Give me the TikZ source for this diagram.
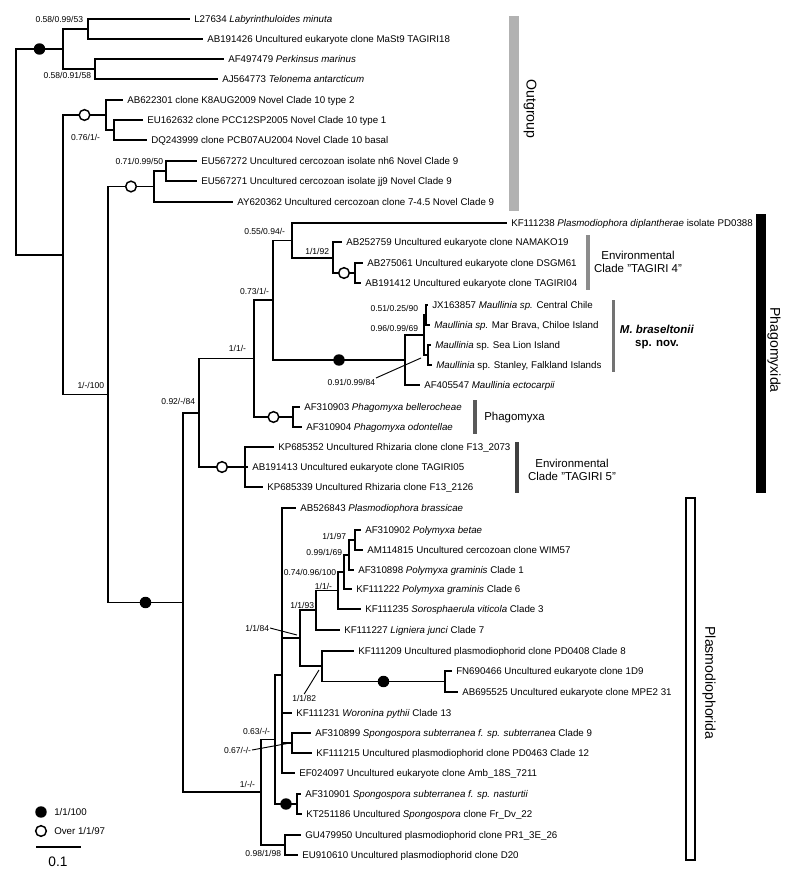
\documentclass[tikz,border=0pt]{standalone}
\usepackage{fontspec}
\setmainfont{Liberation Sans}

\tikzset{
	br/.style={line width=1.2pt},
	leaf/.style={anchor=west, inner xsep=3pt, inner ysep=0pt, text height=5.2pt, text depth=0pt, font=\fontsize{7.3}{8}\selectfont},
	bs/.style={anchor=east, inner sep=0.5pt, text height=4.6pt, text depth=0pt, font=\fontsize{6.4}{7}\selectfont},
	clade/.style={align=center, inner sep=0pt, font=\fontsize{8.6}{10.2}\selectfont},
	group/.style={rotate=-90, inner sep=0pt, font=\fontsize{10.6}{12}\selectfont},
	fdot/.style={circle, fill=black, inner sep=0pt, minimum size=8.6pt},
	odot/.style={circle, draw=black, fill=white, line width=1.1pt, inner sep=0pt, minimum size=8pt},
	lead/.style={line width=0.7pt}
}

\begin{document}
\begin{tikzpicture}[x=0.75pt,y=-0.75pt]
	\useasboundingbox (0,0) rectangle (800,882);

	\coordinate (rt) at (16,151.9);
	\coordinate (nC) at (63,49);
	\coordinate (nA) at (88,29);
	\coordinate (nB) at (95,69);
	\coordinate (nD) at (63,254.75);
	\coordinate (nK) at (106,115);
	\coordinate (nKb) at (114,130);
	\coordinate (nE) at (108,394.5);
	\coordinate (nN) at (154,186.5);
	\coordinate (nNb) at (166,171);
	\coordinate (nF) at (183,602.5);
	\coordinate (nG) at (199,413);
	\coordinate (nT5) at (245,467);
	\coordinate (nH) at (254,358.5);
	\coordinate (nPx) at (293,417);
	\coordinate (nI) at (273,300);
	\coordinate (nJ) at (292,240.5);
	\coordinate (nT4) at (333,258);
	\coordinate (nT4b) at (355,273);
	\coordinate (nM) at (405,360);
	\coordinate (nM0) at (424,335);
	\coordinate (nM1) at (426,315);
	\coordinate (nM2) at (428,355);
	\coordinate (nP) at (261,792.25);
	\coordinate (nR) at (285,845);
	\coordinate (nQ) at (275,739.5);
	\coordinate (nSp) at (297,804);
	\coordinate (nS) at (282,675);
	\coordinate (nV) at (292,743);
	\coordinate (nU) at (300,638);
	\coordinate (nW) at (316,610);
	\coordinate (nZ) at (338,590.5);
	\coordinate (n100) at (344,572);
	\coordinate (n69) at (349,555);
	\coordinate (n97) at (355,540);
	\coordinate (nX) at (322,666);
	\coordinate (nY) at (445,681.5);

	\node[leaf] (o1) at (190,19) {L27634 \textit{Labyrinthuloides minuta}};
	\node[leaf] (o2) at (203,39) {AB191426 Uncultured eukaryote clone MaSt9 TAGIRI18};
	\node[leaf] (o3) at (224,59) {AF497479 \textit{Perkinsus marinus}};
	\node[leaf] (o4) at (218,79) {AJ564773 \textit{Telonema antarcticum}};
	\node[leaf] (c1) at (123,100) {AB622301 clone K8AUG2009 Novel Clade 10 type 2};
	\node[leaf] (c2) at (143,120) {EU162632 clone PCC12SP2005 Novel Clade 10 type 1};
	\node[leaf] (c3) at (147,140) {DQ243999 clone PCB07AU2004 Novel Clade 10 basal};
	\node[leaf] (n1) at (197,161) {EU567272 Uncultured cercozoan isolate nh6 Novel Clade 9};
	\node[leaf] (n2) at (197,181) {EU567271 Uncultured cercozoan isolate jj9 Novel Clade 9};
	\node[leaf] (n3) at (233,202) {AY620362 Uncultured cercozoan clone 7-4.5 Novel Clade 9};
	\node[leaf] (p1) at (507,223) {KF111238 \textit{Plasmodiophora diplantherae} isolate PD0388};
	\node[leaf] (t1) at (342,242) {AB252759 Uncultured eukaryote clone NAMAKO19};
	\node[leaf] (t2) at (363,263) {AB275061 Uncultured eukaryote clone DSGM61};
	\node[leaf] (t3) at (361,283) {AB191412 Uncultured eukaryote clone TAGIRI04};
	\node[leaf] (m1) at (428,305) {JX163857 \textit{Maullinia sp.} Central Chile};
	\node[leaf] (m2) at (430,325) {\textit{Maullinia sp.} Mar Brava, Chiloe Island};
	\node[leaf] (m3) at (431,345) {\textit{Maullinia} sp. Sea Lion Island};
	\node[leaf] (m4) at (432,365) {\textit{Maullinia} sp. Stanley, Falkland Islands};
	\node[leaf] (m5) at (420,385) {AF405547 \textit{Maullinia ectocarpii}};
	\node[leaf] (x1) at (300,407) {AF310903 \textit{Phagomyxa bellerocheae}};
	\node[leaf] (x2) at (302,427) {AF310904 \textit{Phagomyxa odontellae}};
	\node[leaf] (k1) at (274,447) {KP685352 Uncultured Rhizaria clone clone F13\_2073};
	\node[leaf] (k2) at (248,467) {AB191413 Uncultured eukaryote clone TAGIRI05};
	\node[leaf] (k3) at (263,487) {KP685339 Uncultured Rhizaria clone F13\_2126};
	\node[leaf] (s1) at (296,508) {AB526843 \textit{Plasmodiophora brassicae}};
	\node[leaf] (s2) at (361,530) {AF310902 \textit{Polymyxa betae}};
	\node[leaf] (s3) at (363,550) {AM114815 Uncultured cercozoan clone WIM57};
	\node[leaf] (s4) at (354,570) {AF310898 \textit{Polymyxa graminis} Clade 1};
	\node[leaf] (s5) at (352,589) {KF111222 \textit{Polymyxa graminis} Clade 6};
	\node[leaf] (s6) at (361,609) {KF111235 \textit{Sorosphaerula viticola} Clade 3};
	\node[leaf] (s7) at (340,630) {KF111227 \textit{Ligniera junci} Clade 7};
	\node[leaf] (s8) at (354,651) {KF111209 Uncultured plasmodiophorid clone PD0408 Clade 8};
	\node[leaf] (s9) at (452,671) {FN690466 Uncultured eukaryote clone 1D9};
	\node[leaf] (s10) at (458,692) {AB695525 Uncultured eukaryote clone MPE2 31};
	\node[leaf] (s11) at (292,713) {KF111231 \textit{Woronina pythii} Clade 13};
	\node[leaf] (s12) at (311,733) {AF310899 \textit{Spongospora subterranea f. sp. subterranea} Clade 9};
	\node[leaf] (s13) at (312,753) {KF111215 Uncultured plasmodiophorid clone PD0463 Clade 12};
	\node[leaf] (s14) at (295,773) {EF024097 Uncultured eukaryote clone Amb\_18S\_7211};
	\node[leaf] (s15) at (301,794) {AF310901 \textit{Spongospora subterranea f. sp. nasturtii}};
	\node[leaf] (s16) at (302,814) {KT251186 Uncultured \textit{Spongospora} clone Fr\_Dv\_22};
	\node[leaf] (s17) at (301,835) {GU479950 Uncultured plasmodiophorid clone PR1\_3E\_26};
	\node[leaf] (s18) at (298,855) {EU910610 Uncultured plasmodiophorid clone D20};

	\draw[br] (rt) |- node[pos=0.75,fdot] {} (nC) (rt) |- (nD);
	\draw[br] (nC) |- (nA) (nC) |- (nB);
	\draw[br] (nA) |- (o1.west) (nA) |- (o2.west);
	\draw[br] (nB) |- (o3.west) (nB) |- (o4.west);
	\draw[br] (nD) |- node[pos=0.75,odot] {} (nK) (nD) |- (nE);
	\draw[br] (nK) |- (c1.west) (nK) |- (nKb);
	\draw[br] (nKb) |- (c2.west) (nKb) |- (c3.west);
	\draw[br] (nE) |- node[pos=0.75,odot] {} (nN);
	\draw[br] (nE) |- node[pos=0.75,fdot] {} (nF);
	\draw[br] (nN) |- (nNb) (nN) |- (n3.west);
	\draw[br] (nNb) |- (n1.west) (nNb) |- (n2.west);
	\draw[br] (nF) |- (nG) (nF) |- (nP);
	\draw[br] (nG) |- (nH) (nG) |- node[pos=0.75,odot] {} (nT5);
	\draw[br] (nT5) |- (k1.west) (nT5) |- (k2.west) (nT5) |- (k3.west);
	\draw[br] (nH) |- (nI) (nH) |- node[pos=0.75,odot] {} (nPx);
	\draw[br] (nPx) |- (x1.west) (nPx) |- (x2.west);
	\draw[br] (nI) |- (nJ) (nI) |- node[pos=0.75,fdot] {} (nM);
	\draw[br] (nJ) |- (p1.west) (nJ) |- (nT4);
	\draw[br] (nT4) |- (t1.west) (nT4) |- node[pos=0.75,odot] {} (nT4b);
	\draw[br] (nT4b) |- (t2.west) (nT4b) |- (t3.west);
	\draw[br] (nM) |- (nM0) (nM) |- (m5.west);
	\draw[br] (nM0) |- (nM1) (nM0) |- (nM2);
	\draw[br] (nM1) |- (m1.west) (nM1) |- (m2.west);
	\draw[br] (nM2) |- (m3.west) (nM2) |- (m4.west);
	\draw[br] (nP) |- (nQ) (nP) |- (nR);
	\draw[br] (nR) |- (s17.west) (nR) |- (s18.west);
	\draw[br] (nQ) |- (nS) (nQ) |- node[pos=0.75,fdot] {} (nSp);
	\draw[br] (nSp) |- (s15.west) (nSp) |- (s16.west);
	\draw[br] (nS) |- (s1.west) (nS) |- (nU) (nS) |- (s11.west) (nS) |- (nV) (nS) |- (s14.west);
	\draw[br] (nV) |- (s12.west) (nV) |- (s13.west);
	\draw[br] (nU) |- (nW) (nU) |- (nX);
	\draw[br] (nW) |- (nZ) (nW) |- (s7.west);
	\draw[br] (nZ) |- (n100) (nZ) |- (s6.west);
	\draw[br] (n100) |- (n69) (n100) |- (s5.west);
	\draw[br] (n69) |- (n97) (n69) |- (s4.west);
	\draw[br] (n97) |- (s2.west) (n97) |- (s3.west);
	\draw[br] (nX) |- (s8.west) (nX) |- node[pos=0.75,fdot] {} (nY);
	\draw[br] (nY) |- (s9.west) (nY) |- (s10.west);

	\node[bs] (bA) at (84,19) {0.58/0.99/53};
	\node[bs] (bB) at (92,75) {0.58/0.91/58};
	\node[bs] (bKb) at (101,137) {0.76/1/-};
	\node[bs] (bNb) at (164,161) {0.71/0.99/50};
	\node[bs] (bE) at (105,385) {1/-/100};
	\node[bs] (bG) at (196,401) {0.92/-/84};
	\node[bs] (bH) at (247,348) {1/1/-};
	\node[bs] (bI) at (270,291) {0.73/1/-};
	\node[bs] (bJ) at (286,231) {0.55/0.94/-};
	\node[bs] (bT4) at (330,251) {1/1/92};
	\node[bs] (bM1) at (419,308) {0.51/0.25/90};
	\node[bs] (bM0) at (419,328) {0.96/0.99/69};
	\node[bs] (bM2) at (376,382) {0.91/0.99/84};
	\node[bs] (b97) at (347,536) {1/1/97};
	\node[bs] (b69) at (343,552) {0.99/1/69};
	\node[bs] (b100) at (337,572) {0.74/0.96/100};
	\node[bs] (bZ) at (333,586) {1/1/-};
	\node[bs] (bW) at (315,605) {1/1/93};
	\node[bs] (bU) at (270,628) {1/1/84};
	\node[bs] (bX) at (317,698) {1/1/82};
	\node[bs] (bQ) at (271,731) {0.63/-/-};
	\node[bs] (bV) at (252,750) {0.67/-/-};
	\node[bs] (bP) at (256,784) {1/-/-};
	\node[bs] (bR) at (282,853) {0.98/1/98};

	\coordinate (qM2) at (421,358);
	\coordinate (qU) at (297,635);
	\coordinate (qX) at (319,670);
	\coordinate (qV) at (290,743);
	\draw[lead] (bM2.north east) -- (qM2);
	\draw[lead] (bU.east) -- (qU);
	\draw[lead] (bX.north) -- (qX);
	\draw[lead] (bV.east) -- (qV);

	\fill[black!30] (509,16) rectangle (519,211);
	\node[group] (outg) at (530,109) {Outgroup};
	\fill[black] (756,214) rectangle (766,493);
	\node[group] (phgx) at (774,350) {Phagomyxida};
	\draw[line width=0.8pt, fill=white] (686,498) rectangle (695,860);
	\node[group] (plsm) at (709,683) {Plasmodiophorida};

	\fill[black!45] (586,235) rectangle (590,290);
	\node[clade] (ct4) at (638,262) {Environmental\\Clade "TAGIRI 4"};
	\fill[black!55] (611.5,300) rectangle (615,372);
	\node[clade] (cmb) at (657,337) {\textbf{\textit{M. braseltonii}}\\\textbf{sp. nov.}};
	\fill[black!65] (473,400) rectangle (477,434);
	\node[clade, anchor=west] (cpx) at (484,418) {Phagomyxa};
	\fill[black!75] (515,442) rectangle (519,493);
	\node[clade] (ct5) at (572,470) {Environmental\\Clade "TAGIRI 5"};

	\node[fdot] (lgf) at (41,812) {};
	\node[odot] (lgo) at (41,831) {};
	\node[leaf, anchor=west] (lg1) at (50,812) {1/1/100};
	\node[leaf, anchor=west] (lg2) at (50,831) {Over 1/1/97};
	\draw[line width=1.8pt] (36,847) -- (81,847);
	\node[font=\fontsize{10.3}{12}\selectfont, inner sep=0pt] (scl) at (58,862) {0.1};
\end{tikzpicture}
\end{document}
